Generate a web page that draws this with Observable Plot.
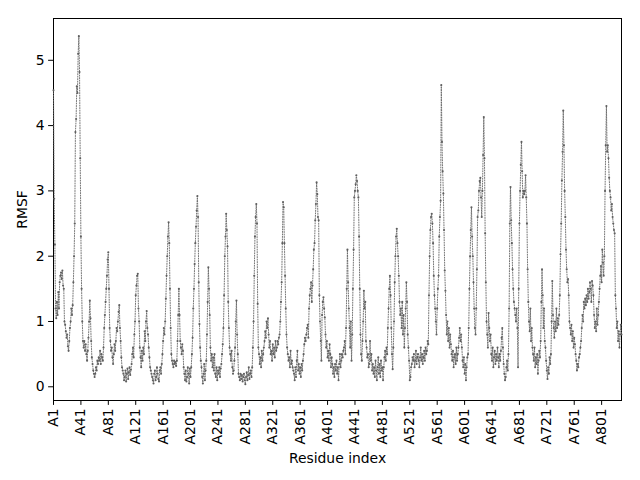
<!DOCTYPE html>
<html>
<head>
<meta charset="utf-8">
<script src="https://cdn.jsdelivr.net/npm/d3@7"></script>
<script src="https://cdn.jsdelivr.net/npm/@observablehq/plot@0.6"></script>
<style>
  html, body { margin: 0; padding: 0; background: #fff; }
  #chart svg { display: block; }
</style>
</head>
<body>
<div id="chart"></div>
<script>
// RMSF per residue (residues A1 ... A830)
const rmsf001 = [4.54,2.88,2.18,1.2,1.05,1.3,1.1,1.45,1.2,1.6, 1.7,1.75,1.65,1.78,1.55,1.5, 1.0,0.95,0.85,0.75,0.8,0.62,0.55,0.7,0.9, 1.0,1.2,1.1,1.25, 1.6,2.0,2.5,3.9,4.1,4.6,4.5,5.1, 5.37, 4.82,3.5,2.3,1.5,1.0,0.7, 0.6,0.7,0.55,0.65,0.5,0.4,0.55,0.75,1.0,1.32,1.05, 0.7,0.45,0.35,0.25,0.2,0.15,0.2,0.3,0.25,0.4,0.35,0.45, 0.4,0.55,0.35,0.5,0.45,0.4,0.6,0.9,1.1, 1.3,1.5,1.7,1.95,2.06,1.5, 0.9,0.7,0.55,0.6,0.45,0.35,0.5,0.65,0.55, 0.7,0.9,0.85,1.0,1.15,1.25,0.9, 0.7,0.45,0.3,0.25];
const rmsf103 = [0.2,0.1,0.15,0.25,0.08,0.2,0.28,0.12,0.22,0.3,0.18,0.26,0.35, 0.5,0.6,0.45,0.8,1.0, 1.4,1.55,1.7,1.73, 1.2,1.0,0.6,0.45,0.3,0.55,0.4, 0.6,0.5,0.85,0.7,1.0,1.16,0.9,0.8,0.6, 0.45,0.3,0.25,0.2, 0.15,0.1,0.05,0.2,0.25,0.1,0.15,0.3,0.2,0.12,0.08,0.25,0.3,0.2, 0.35,0.5,0.7,0.9,0.8, 1.0,1.35,1.7,2.0,2.3,2.52, 2.2,1.5,0.9,0.5, 0.4,0.35,0.3,0.4,0.35,0.38,0.32,0.4, 0.7,1.1,1.5,1.1, 0.7,0.6,0.5,0.65,0.55,0.3, 0.2,0.1,0.25,0.08,0.15,0.3,0.2,0.05,0.28,0.15,0.3];
const rmsf203 = [0.5,0.75,1.2,1.5,1.88, 2.2,2.45,2.7,2.92,2.6, 1.6,0.96,0.6,0.4, 0.3,0.15,0.05,0.2,0.35,0.1,0.25,0.4, 0.8,1.3,1.83,1.5, 1.1,0.6,0.4,0.5,0.3,0.45,0.25,0.5, 0.2,0.15,0.3,0.1,0.25,0.2,0.3,0.15,0.28,0.35, 0.5,0.65,0.9,1.4,2.0, 2.3,2.65,2.4,2.15, 1.3,0.9,0.6,0.5,0.4,0.55, 0.3,0.2,0.25,0.4, 0.6,1.0,1.32,0.8,0.5, 0.2,0.15,0.1,0.2,0.12,0.18,0.08,0.15,0.2,0.1,0.04,0.15,0.22,0.1,0.18,0.3,0.12,0.2,0.25,0.15,0.3, 0.6,1.0,1.7,2.3,2.6,2.8, 2.5,1.27,0.6];
const rmsf301 = [0.5,0.35,0.45,0.3,0.55,0.4,0.5,0.6, 0.7,0.85,0.75,1.0,0.9,1.05,0.8, 0.6,0.7,0.5,0.55,0.4,0.65,0.5,0.6,0.45,0.7,0.55,0.6,0.7, 0.65,0.75,0.8,1.0,1.3,1.6, 2.2,2.83,2.75,2.2,1.7, 1.2,0.8,0.6,0.5,0.4, 0.45,0.3,0.55,0.35,0.4,0.3,0.25, 0.2,0.1,0.3,0.15,0.4,0.55,0.25,0.35,0.2,0.3,0.15,0.35,0.25,0.4,0.5, 0.65,0.75,0.7,0.8,0.9,0.95,0.75, 1.2,1.4,1.5,1.6,1.3,1.55, 1.8,2.1,2.2,2.55, 2.8,3.13,2.95,2.6,2.55, 1.4,1.0,0.7,0.4,1.1,1.3, 1.37,1.2,1.06,0.8];
const rmsf399 = [0.6,0.7,0.45,0.55,0.4,0.65,0.5,0.3,0.45,0.35, 0.2,0.3,0.15,0.35,0.25,0.4,0.2,0.3,0.1,0.35,0.5,0.3,0.4,0.5,0.45, 0.55,0.6,0.7,0.5,0.9, 1.5,2.1,1.6, 1.2,0.9,0.6,1.0,0.4,0.8,1.5, 2.1,2.9,3.0,3.1,3.24,3.15,3.0,2.9, 2.3,1.5, 0.8,0.5,0.4,0.7, 1.0,1.47,1.2,1.3, 0.7,0.6,0.45,0.5,0.3,0.35,0.7,0.4,0.5,0.25,0.35, 0.2,0.3,0.15,0.4,0.25,0.1,0.3,0.45,0.2,0.35,0.15,0.4,0.25,0.3,0.1,0.3, 0.45,0.55,0.4,0.6,0.5,0.9, 1.2,1.5,1.7,1.4,0.9, 0.5,0.27,0.6];
const rmsf498 = [1.0,1.6,2.0,2.3,2.42,2.2, 2.0,1.7,1.3,1.1,1.2,0.9,1.3,0.8, 1.1,0.6,0.9,1.2,1.6,1.3,0.8,0.6, 0.4,0.1,0.15,0.3, 0.35,0.45,0.4,0.5,0.3,0.4,0.55,0.35,0.45,0.5,0.4,0.3,0.45,0.6,0.4,0.5,0.35,0.45,0.55,0.4,0.6,0.5,0.55,0.7,0.65, 1.4,2.0,2.4,2.6,2.65,2.5, 2.2,1.7,1.4,1.2,1.0,0.8, 1.2,1.5,1.7,2.3,2.6,2.85, 4.62, 3.75,3.3,2.96,2.4,1.78,1.47, 1.1,0.8,1.0,0.7,0.9,0.6,0.8,0.65, 0.5,0.4,0.55,0.3,0.45,0.5,0.35,0.6,0.4,0.5, 0.6,0.75,0.9,0.7,0.8,0.6];
const rmsf598 = [0.4,0.3,0.45,0.2,0.35,0.1,0.3,0.45,0.5, 0.9,1.5,2.0,2.4,2.75,2.3,2.0, 1.6,1.2,0.9,0.8, 1.2,1.8,2.6, 2.7,3.0,3.15,3.2,2.9,2.6,3.0,3.55,4.13,3.5,2.35,1.6, 1.0,0.8,0.6,1.13,0.9,0.7,0.8, 0.5,0.4,0.6,0.3,0.45,0.55,0.35,0.5,0.4,0.6,0.45,0.3,0.5,0.4,0.55, 0.75,0.9,0.6, 0.35,0.2,0.1,0.15,0.3,0.4,0.25,0.5, 1.2,2.5,3.06, 2.55,2.2,1.8,1.5,1.3,1.2,1.1,1.0,1.2,0.9, 0.3, 1.5,2.5,3.0,3.4,3.75,3.3,2.9,3.0, 2.95,3.0,3.24,2.9,2.5,1.8, 1.3,1.0,0.85,1.2,0.7,0.9,0.6];
const rmsf701 = [0.5,0.4,0.6,0.3,0.45,0.35,0.5,0.2,0.4,0.55,0.45,0.7, 1.3,1.8,1.4, 0.9,1.2,0.7,0.6, 0.4,0.25,0.12,0.3,0.2,0.45,0.35,0.5, 1.0,1.62,1.1,0.9, 0.75,1.0,0.85,1.2,0.9,1.05,0.95, 1.1,1.4,2.03,2.5,3.16,3.6,4.23, 3.7,3.0,2.6,2.1, 1.8,1.6,1.65,1.4, 1.0,0.9,0.8,0.95,0.7,0.85,0.6,0.75,0.65,0.5, 0.4,0.25,0.35,0.3,0.45,0.5,0.6,0.7, 0.9,1.1,1.0,1.3,1.2,1.35,1.25, 1.4,1.3,1.5,1.35,1.45,1.6,1.5,1.3,1.62,1.55,1.4, 1.1,0.9,1.0,0.85,1.2,0.95,1.1,1.3, 1.5,1.7,1.85,1.6,2.1,1.9,1.7,2.0,3.0, 3.7,4.3,3.6,3.7,3.5,3.2, 3.0,2.9,2.7,2.8,2.6,2.5,2.4,2.35, 1.4,1.2,0.9,1.0, 0.7,0.85,0.6,0.8,0.95,0.8];

const rmsf = [].concat(rmsf001, rmsf103, rmsf203, rmsf301, rmsf399, rmsf498, rmsf598, rmsf701);
const residues = rmsf.map((_, i) => i);            // 0-based index -> residue A(i+1)
const tickIndex = d3.range(0, 801, 40);             // A1, A41, ..., A801
const tickLabels = tickIndex.map(i => "A" + (i + 1));
const yTicks = [0, 1, 2, 3, 4, 5];

const data = rmsf.map((v, i) => ({i: residues[i], v}));
const nMax = rmsf.length - 1;

const chart = Plot.plot({
  width: 640,
  height: 480,
  marginLeft: 53,
  marginRight: 19,
  marginTop: 18,
  marginBottom: 80,
  style: {fontFamily: "DejaVu Sans", fontSize: "13.9px", background: "#fff", color: "#000"},
  x: {domain: [0, nMax]},
  y: {domain: [-0.21, 5.64]},
  marks: [
    Plot.frame({stroke: "#000", strokeWidth: 1}),
    Plot.axisX({ticks: tickIndex, tickFormat: (d, k) => tickLabels[k], tickRotate: -90, tickSize: 4.9, tickPadding: 3, label: null, fontSize: "13.9px"}),
    Plot.axisY({ticks: yTicks, tickFormat: d => String(d), tickSize: 4.9, tickPadding: 4, label: null, fontSize: "13.9px"}),
    Plot.line(data, {x: "i", y: "v", stroke: "#666", strokeWidth: 0.9, strokeDasharray: "1,1.5"}),
    Plot.dot(data, {x: "i", y: "v", r: 1.05, fill: "#5e5e5e", stroke: null}),
    Plot.text(["Residue index"], {frameAnchor: "bottom", dy: 62, fontSize: 13.9, fill: "#000"}),
    Plot.text(["RMSF"], {frameAnchor: "left", dx: -31, rotate: -90, textAnchor: "middle", fontSize: 13.9, fill: "#000"})
  ]
});
document.getElementById("chart").appendChild(chart);
</script>
</body>
</html>
